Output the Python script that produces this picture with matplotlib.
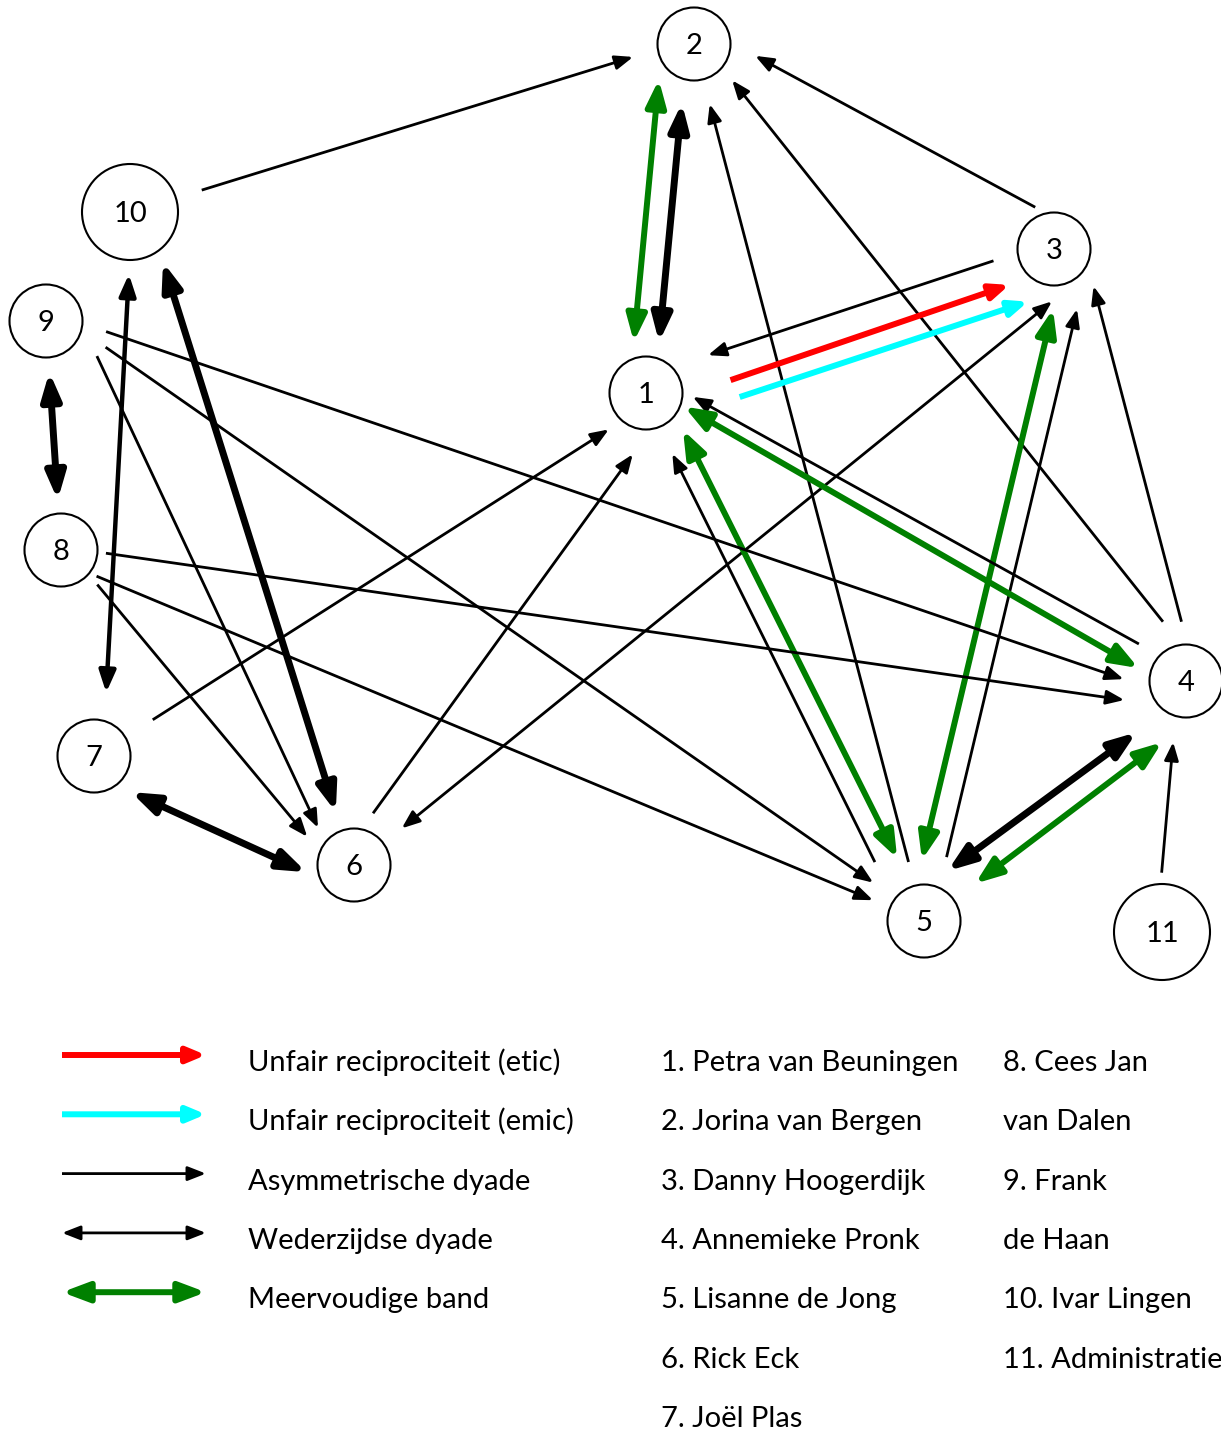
import numpy as np
import matplotlib
matplotlib.use('Agg')
import matplotlib.pyplot as plt
from matplotlib.patches import Circle, FancyArrowPatch

plt.rcParams['font.family'] = ['Lato', 'DejaVu Sans']

W, H = 1221, 1429

# Knooppunten (positie in pixels van de tekening)
node_ids = [1, 2, 3, 4, 5, 6, 7, 8, 9, 10, 11]
node_x = [646, 694, 1054, 1186, 924, 354, 94, 61, 46, 130, 1162]
node_y = [393, 44, 249, 681, 921, 865, 756, 550, 321, 212, 932]
node_r = [36.5, 36.5, 36.5, 36.5, 36.5, 36.5, 36.5, 36.5, 36.5, 48, 48]

# Relaties: bron, doel, soort
edge_src = [10, 2, 2, 5, 4, 3, 3, 1, 1, 6, 5, 5, 4, 4, 4, 5,
            5, 6, 7, 9, 9, 9, 9, 8, 8, 8, 10, 10, 7, 5, 5, 11]
edge_dst = [2, 1, 1, 2, 2, 2, 1, 3, 3, 3, 3, 3, 3, 1, 1, 1,
            1, 1, 1, 4, 5, 6, 8, 4, 5, 6, 7, 6, 6, 4, 4, 4]
edge_kind = ['asym', 'multi', 'bold', 'asym', 'asym', 'asym', 'asym', 'etic',
             'emic', 'mutual', 'multi', 'asym', 'asym', 'asym', 'multi', 'asym',
             'multi', 'asym', 'asym', 'asym', 'asym', 'asym', 'bold', 'asym',
             'asym', 'asym', 'mid', 'bold', 'bold', 'bold', 'multi', 'asym']
# afstand tot het middelpunt en zijdelingse verschuiving aan beide uiteinden
edge_gap_src = [75, 40, 60, 61, 61, 37, 61, 84, 87, 60, 59.5, 67, 58, 59, 48, 75,
                68, 54, 69, 60.5, 64, 55.6, 51, 45, 43, 50, 62, 58, 48, 51, 63, 59]
edge_gap_dst = [62, 49, 52, 62, 52, 59, 71, 54, 42, 36, 59, 54.5, 47, 43, 40, 66,
                50, 59, 51, 60, 63.5, 50, 50, 59, 55, 52.5, 64, 56, 41, 71, 59, 62]
edge_off_src = [-0.5, 30, 4, 0, 18, 27, 9, 16, 35, 4, -13.6, 10, 13, 10.5, -11, -16,
                5.5, -11, 2, -8, -12, -27, 0, -2, 10, -3, -3, -15, 19, -21, 7, -6]
edge_off_dst = [-5, 19, -6, 0, 8, 20, 15, 19, 41, 38, 10.4, 34, 27, 18.6, 6, -5,
                15.5, 21, 10, 17, -3, 13, 0, 26, 1, 15, -8, 0, 25, 4.5, 29, -7]

# Legenda
legend_kinds = ['etic', 'emic', 'asym', 'mutual', 'multi']
legend_labels = ['Unfair reciprociteit (etic)', 'Unfair reciprociteit (emic)',
                 'Asymmetrische dyade', 'Wederzijdse dyade', 'Meervoudige band']
names_col1 = ['1. Petra van Beuningen', '2. Jorina van Bergen', '3. Danny Hoogerdijk',
              '4. Annemieke Pronk', '5. Lisanne de Jong', '6. Rick Eck', '7. Joël Plas']
names_col2 = ['8. Cees Jan', 'van Dalen', '9. Frank', 'de Haan',
              '10. Ivar Lingen', '11. Administratie']

# Stijlen: kleur, lijndikte (pt), pijlstijl, kop lengte, kop halve breedte (pt)
styles = {
    'asym':   ('black',   2.0, '-|>',   11.0, 4.3),
    'mutual': ('black',   2.0, '<|-|>', 11.0, 4.3),
    'mid':    ('black',   3.2, '<|-|>', 13.0, 5.0),
    'bold':   ('black',   5.0, '<|-|>', 16.0, 5.8),
    'multi':  ('#008000', 4.3, '<|-|>', 16.0, 6.0),
    'etic':   ('#FF0000', 4.3, '-|>',   11.0, 4.6),
    'emic':   ('#00FFFF', 4.3, '-|>',   11.0, 4.6),
}

FONT_SIZE = 21


def draw_arrow(ax, start, end, kind):
    color, lw, style, hl, hw = styles[kind]
    arrow = FancyArrowPatch(start, end,
                            arrowstyle=f'{style},head_length={hl},head_width={hw}',
                            mutation_scale=1, shrinkA=0, shrinkB=0,
                            color=color, lw=lw, joinstyle='round',
                            capstyle='butt', zorder=2)
    ax.add_patch(arrow)


fig = plt.figure(figsize=(W / 100, H / 100), dpi=100)
ax = fig.add_axes([0, 0, 1, 1])
ax.set_xlim(0, W)
ax.set_ylim(H, 0)
ax.axis('off')

pos = {n: np.array([x, y], dtype=float) for n, x, y in zip(node_ids, node_x, node_y)}

for s, d, k, gs, gd, os_, od in zip(edge_src, edge_dst, edge_kind, edge_gap_src,
                                    edge_gap_dst, edge_off_src, edge_off_dst):
    a, b = pos[s], pos[d]
    u = (b - a) / np.linalg.norm(b - a)
    n = np.array([-u[1], u[0]])
    start = a + gs * u + os_ * n
    end = b - gd * u + od * n
    draw_arrow(ax, tuple(start), tuple(end), k)

for n, x, y, r in zip(node_ids, node_x, node_y, node_r):
    ax.add_patch(Circle((x, y), r, facecolor='white', edgecolor='black', lw=1.5, zorder=3))
    ax.text(x, y + 2, str(n), ha='center', va='center', fontsize=FONT_SIZE, zorder=4)

# Legenda tekenen
row_base = 1071
row_step = 59.3
for i, (k, lab) in enumerate(zip(legend_kinds, legend_labels)):
    yb = row_base + i * row_step
    draw_arrow(ax, (62, yb - 16), (206, yb - 16), k)
    ax.text(248, yb, lab, ha='left', va='baseline', fontsize=FONT_SIZE)

for i, lab in enumerate(names_col1):
    ax.text(661, row_base + i * row_step, lab, ha='left', va='baseline', fontsize=FONT_SIZE)
for i, lab in enumerate(names_col2):
    ax.text(1003, row_base + i * row_step, lab, ha='left', va='baseline', fontsize=FONT_SIZE)

fig.savefig('out.png', dpi=100)
